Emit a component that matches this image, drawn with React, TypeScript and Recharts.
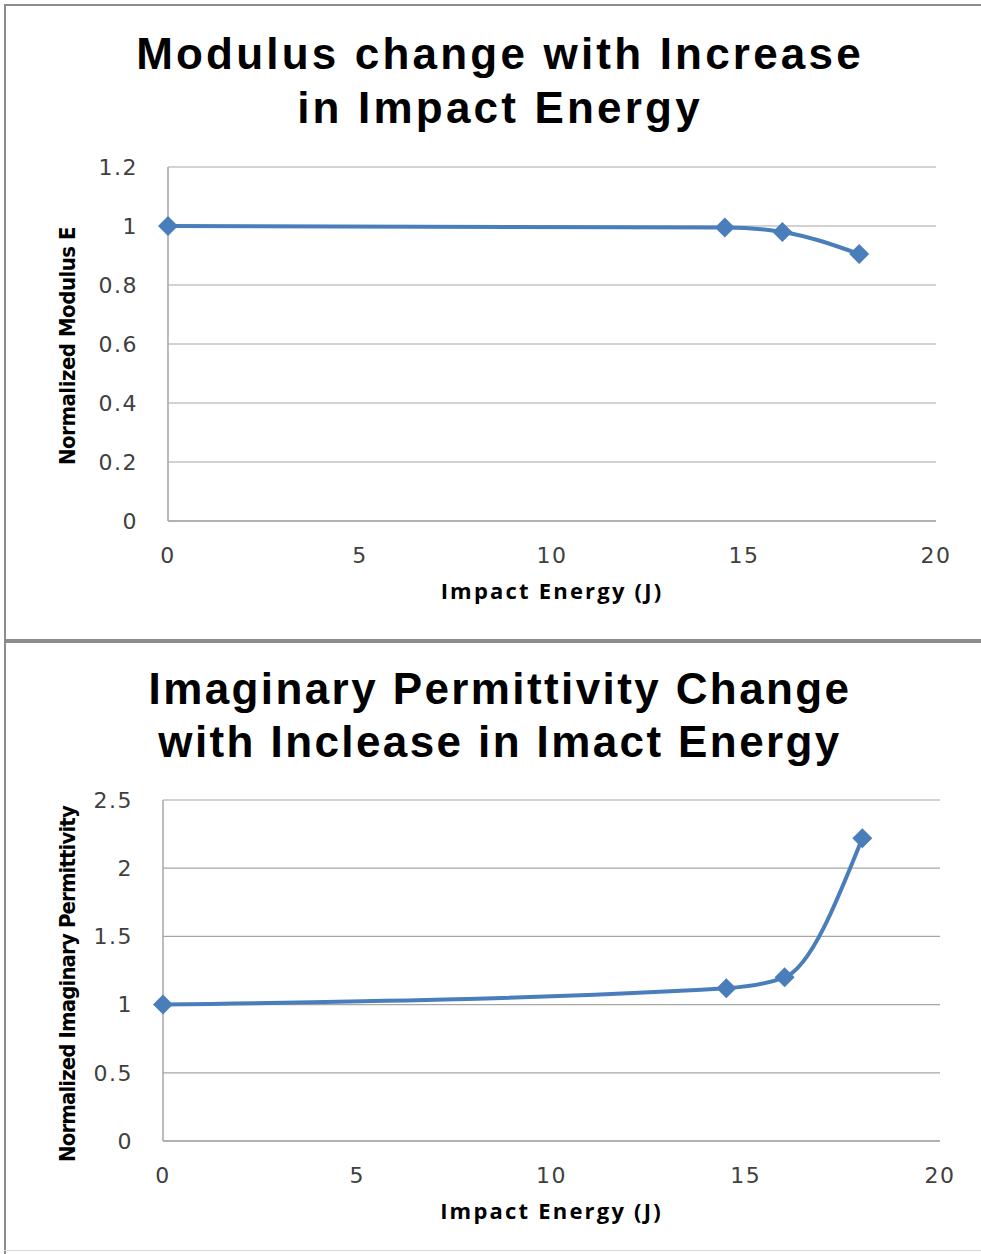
import { CartesianGrid, Label, Line, LineChart, XAxis, YAxis } from 'recharts';

const energy = [0, 14.5, 16, 18];
const modulus = [1, 0.995, 0.98, 0.905];
const permittivity = [1, 1.12, 1.2, 2.22];

const xTicks = [0, 5, 10, 15, 20];
const modulusTicks = [0, 0.2, 0.4, 0.6, 0.8, 1, 1.2];
const permTicks = [0, 0.5, 1, 1.5, 2, 2.5];

const BLUE = '#4A7EBB';
const GRID = '#A6A6A6';
const TICK_FONT = { fontSize: 22, fill: '#404040', fontFamily: 'DejaVu Sans', letterSpacing: 1.5 };

const modulusData = energy.map((e, i) => ({ energy: e, value: modulus[i] }));
const permData = energy.map((e, i) => ({ energy: e, value: permittivity[i] }));

function Diamond(props: any) {
  const { cx, cy } = props;
  if (cx == null || cy == null) return null;
  const r = 10;
  return (
    <polygon
      points={`${cx},${cy - r} ${cx + r},${cy} ${cx},${cy + r} ${cx - r},${cy}`}
      fill={BLUE}
    />
  );
}

interface PanelProps {
  top: number;
  height: number;
  titleLines: string[];
  titleY: number[];
  titleSpacing: number;
  data: { energy: number; value: number }[];
  yTicks: number[];
  yMax: number;
  yLabel: string;
  plotTop: number;
  plotBottom: number;
  plotLeft: number;
  plotRight: number;
  yLabelCenter: number;
  yLabelSpacing: number;
}

function Panel(p: PanelProps) {
  const yAxisW = 60;
  const xAxisH = 40;
  return (
    <div style={{ position: 'absolute', left: 0, top: p.top, width: 981, height: p.height }}>
      {p.titleLines.map((t, i) => (
        <div
          key={t}
          style={{
            position: 'absolute',
            left: 0,
            width: 1000,
            top: p.titleY[i] - 25,
            height: 50,
            lineHeight: '50px',
            textAlign: 'center',
            fontFamily: 'Liberation Sans',
            fontWeight: 700,
            fontSize: 44,
            letterSpacing: p.titleSpacing,
            color: '#000',
          }}
        >
          {t}
        </div>
      ))}
      <div
        style={{
          position: 'absolute',
          left: 68 - 200,
          top: p.yLabelCenter - 15,
          width: 400,
          height: 30,
          lineHeight: '30px',
          textAlign: 'center',
          transform: 'rotate(-90deg)',
          fontFamily: 'DejaVu Sans Condensed',
          fontWeight: 700,
          fontSize: 22,
          color: '#000',
          letterSpacing: p.yLabelSpacing,
        }}
      >
        {p.yLabel}
      </div>
      <div style={{ position: 'absolute', left: 0, top: 0 }}>
        <LineChart
          width={981}
          height={p.height}
          data={p.data}
          margin={{
            top: p.plotTop,
            bottom: p.height - p.plotBottom - xAxisH,
            left: p.plotLeft - yAxisW,
            right: 981 - p.plotRight,
          }}
        >
          <CartesianGrid vertical={false} stroke={GRID} strokeWidth={1.2} />
          <XAxis
            dataKey="energy"
            type="number"
            domain={[0, 20]}
            ticks={xTicks}
            height={xAxisH}
            tickSize={0}
            tickMargin={26}
            tickLine={false}
            axisLine={{ stroke: GRID, strokeWidth: 1.5 }}
            tick={TICK_FONT}
          >
            <Label
              value="Impact Energy (J)"
              position="bottom"
              offset={22}
              style={{ fontFamily: 'Open Sans', fontWeight: 700, fontSize: 22, letterSpacing: 2.2, fill: '#000' }}
            />
          </XAxis>
          <YAxis
            type="number"
            domain={[0, p.yMax]}
            ticks={p.yTicks}
            width={yAxisW}
            tickSize={0}
            tickMargin={30}
            tickLine={false}
            axisLine={{ stroke: GRID, strokeWidth: 1.5 }}
            tick={TICK_FONT}
            interval={0}
          />
          <Line
            type="monotone"
            dataKey="value"
            stroke={BLUE}
            strokeWidth={4}
            dot={<Diamond />}
            activeDot={false}
            isAnimationActive={false}
          />
        </LineChart>
      </div>
    </div>
  );
}

export default function App() {
  return (
    <div style={{ position: 'absolute', left: 0, top: 0, width: 981, height: 1254, background: '#fff', overflow: 'hidden' }}>
      <Panel
        top={0}
        height={640}
        titleLines={['Modulus change with Increase', 'in Impact Energy']}
        titleY={[54, 108]}
        titleSpacing={3.2}
        data={modulusData}
        yTicks={modulusTicks}
        yMax={1.2}
        yLabel="Normalized Modulus E"
        plotTop={167}
        plotBottom={521}
        plotLeft={168}
        plotRight={936}
        yLabelCenter={346}
        yLabelSpacing={-0.5}
      />
      <Panel
        top={643}
        height={611}
        titleLines={['Imaginary Permittivity Change', 'with Inclease in Imact Energy']}
        titleY={[46, 99]}
        titleSpacing={2.4}
        data={permData}
        yTicks={permTicks}
        yMax={2.5}
        yLabel="Normalized Imaginary Permittivity"
        plotTop={157}
        plotBottom={498}
        plotLeft={163}
        plotRight={940}
        yLabelCenter={341}
        yLabelSpacing={-0.9}
      />
      <div style={{ position: 'absolute', left: 4, top: 4, width: 977, height: 2, background: '#8C8C8C' }} />
      <div style={{ position: 'absolute', left: 4, top: 4, width: 2, height: 1250, background: '#8C8C8C' }} />
      <div style={{ position: 'absolute', left: 4, top: 639, width: 977, height: 4, background: '#8C8C8C' }} />
      <div style={{ position: 'absolute', left: 4, top: 1250, width: 977, height: 1, background: '#D9D9D9' }} />
    </div>
  );
}
